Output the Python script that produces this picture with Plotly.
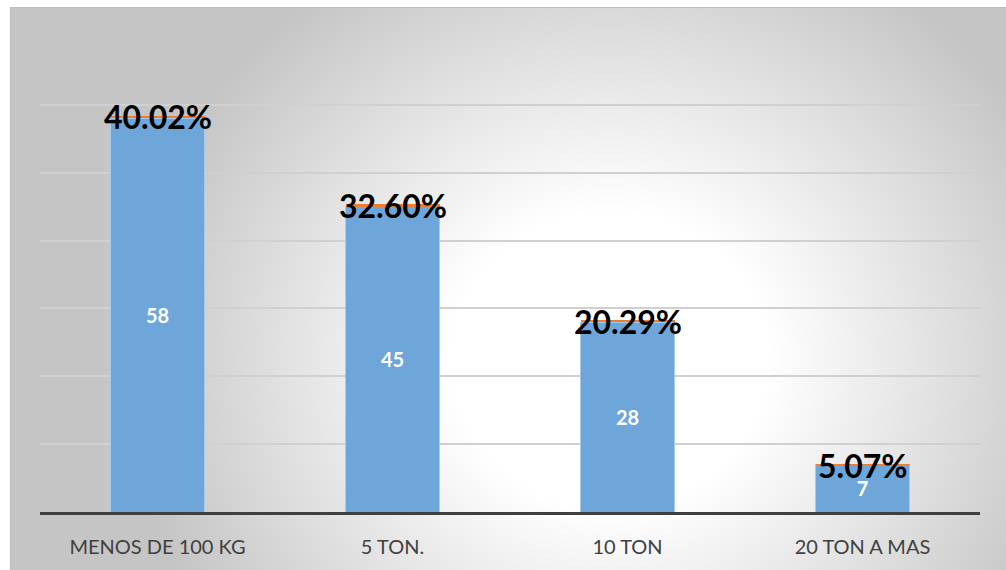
import base64
import struct
import zlib

import numpy as np
import plotly.graph_objects as go

# Shipment weight categories, number of cases and share of the total
categorias = ["MENOS DE 100 KG", "5 TON.", "10 TON", "20 TON A MAS"]
cantidades = [58, 45, 28, 7]
porcentajes = [0.4002, 0.3260, 0.2029, 0.0507]
eje_y_max = 70


def radial_png(w, h, scale, x0, y0):
    """Grey radial gradient (white centre) encoded as a PNG data URI."""
    jj, ii = np.mgrid[0:h, 0:w]
    px = x0 + (ii + 0.5) * scale
    py = y0 + (jj + 0.5) * scale
    t = np.sqrt(((px - 610) / 490.0) ** 2 + ((py - 360) / 460.0) ** 2)
    f = np.clip((t - 0.33) / 0.67, 0, 1)
    v = (255 - 58 * f).astype(np.uint8)
    raw = b"".join(b"\x00" + row.tobytes() for row in v)

    def chunk(tag, data):
        return (struct.pack(">I", len(data)) + tag + data
                + struct.pack(">I", zlib.crc32(tag + data) & 0xFFFFFFFF))

    png = (b"\x89PNG\r\n\x1a\n"
           + chunk(b"IHDR", struct.pack(">IIBBBBB", w, h, 8, 0, 0, 0, 0))
           + chunk(b"IDAT", zlib.compress(raw, 9))
           + chunk(b"IEND", b""))
    return "data:image/png;base64," + base64.b64encode(png).decode()


FONT = "Lato"

fig = go.Figure()

fig.add_trace(go.Bar(
    x=categorias,
    y=cantidades,
    marker=dict(color="#6FA6DA", line=dict(color="#A8C9EA", width=1)),
    text=[str(c) for c in cantidades],
    textposition="inside",
    insidetextanchor="middle",
    textfont=dict(family=FONT, size=20, color="white", weight="bold"),
    hoverinfo="skip",
    showlegend=False,
))

fig.add_trace(go.Bar(
    x=categorias,
    y=porcentajes,
    marker=dict(color="#ED7D31", line=dict(width=0)),
    hoverinfo="skip",
    showlegend=False,
))

# Percentage labels centred on the top of each stacked bar
for cat, c, p in zip(categorias, cantidades, porcentajes):
    fig.add_annotation(
        x=cat, y=c + p, xref="x", yref="y",
        text=f"{p:.2%}", showarrow=False,
        xanchor="center", yanchor="middle", yshift=-1,
        font=dict(family=FONT, size=32, color="black", weight="bold"),
    )

L, R, T, B = 40, 26, 37, 58
W, H = 1006, 570
pw, ph = W - L - R, H - T - B
fx0, fy0 = 10, 7


def px_to_paper_x(x):
    return (x - L) / pw


def px_to_paper_y(y):
    return (H - B - y) / ph


fig.add_layout_image(
    source=radial_png(498, 282, 2, fx0, fy0),
    xref="paper", yref="paper",
    x=px_to_paper_x(fx0), y=px_to_paper_y(fy0),
    sizex=(W - fx0) / pw, sizey=(H - fy0) / ph,
    xanchor="left", yanchor="top",
    sizing="stretch", layer="below",
)

fig.add_shape(
    type="rect", xref="paper", yref="paper",
    x0=px_to_paper_x(fx0 + 0.5), x1=px_to_paper_x(W + 5),
    y0=px_to_paper_y(H + 5), y1=px_to_paper_y(fy0 + 0.5),
    line=dict(color="#BEBEBE", width=1.2),
    fillcolor="rgba(0,0,0,0)", layer="below",
)

fig.update_layout(
    width=W, height=H,
    margin=dict(l=L, r=R, t=T, b=B),
    barmode="stack",
    bargap=0.6,
    paper_bgcolor="white",
    plot_bgcolor="rgba(0,0,0,0)",
    font=dict(family=FONT, color="#404040"),
    xaxis=dict(
        showline=True, linecolor="#3F3F3F", linewidth=3,
        showgrid=False, ticks="",
        tickfont=dict(family=FONT, size=20, color="#404040"),
        ticklabelstandoff=15,
    ),
    yaxis=dict(
        range=[0, eje_y_max], dtick=10,
        showgrid=True, gridcolor="#D0D0D0", gridwidth=1.5,
        showticklabels=False, zeroline=False, showline=False,
    ),
)

fig.write_html("out.html")
